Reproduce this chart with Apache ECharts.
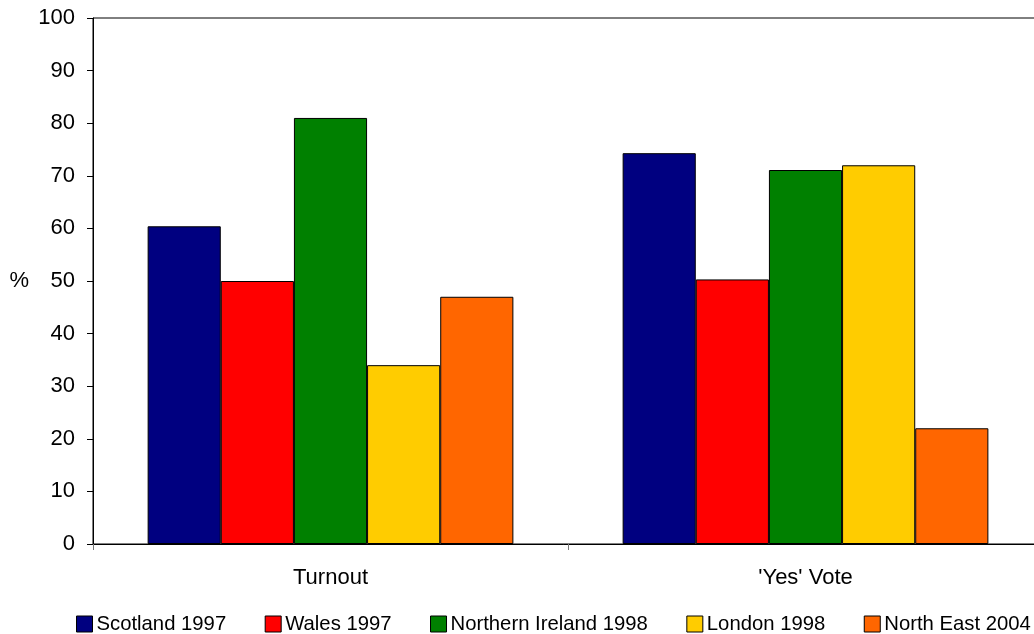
<!DOCTYPE html>
<html>
<head>
<meta charset="utf-8">
<style>
  html, body { margin: 0; padding: 0; background: #fff; }
  #chart { width: 1034px; height: 634px; }
</style>
<script src="https://cdn.jsdelivr.net/npm/echarts@6/dist/echarts.min.js"></script>
</head>
<body>
<div id="chart"></div>
<script>
// Referendum results: turnout and 'Yes' vote share (%)
const categories = ['Turnout', "'Yes' Vote"];
const seriesNames = ['Scotland 1997', 'Wales 1997', 'Northern Ireland 1998', 'London 1998', 'North East 2004'];
const scotland1997 = [60.4, 74.3];
const wales1997 = [50.0, 50.3];
const northernIreland1998 = [81.0, 71.1];
const london1998 = [34.0, 72.0];
const northEast2004 = [47.0, 22.0];
const seriesColors = ['#000080', '#FF0000', '#008000', '#FFCC00', '#FF6600'];

const seriesValues = [scotland1997, wales1997, northernIreland1998, london1998, northEast2004];

const font = 'Liberation Sans, Arial, sans-serif';
const chart = echarts.init(document.getElementById('chart'), null, { renderer: 'canvas' });

chart.setOption({
  animation: false,
  backgroundColor: '#ffffff',
  textStyle: { fontFamily: font, color: '#000' },
  grid: {
    left: 93, top: 18, width: 950, height: 526,
    outerBoundsMode: 'none',
    containLabel: false,
    show: true, borderColor: '#000', borderWidth: 1, backgroundColor: 'transparent'
  },
  legend: {
    left: 76, top: 614, width: 1000,
    padding: 0,
    itemWidth: 16, itemHeight: 16, itemGap: 38.5,
    icon: 'rect',
    textStyle: { fontFamily: font, fontSize: 20.3, color: '#000', padding: [0, 0, 0, -1] },
    itemStyle: { borderColor: '#000', borderWidth: 1 },
    data: seriesNames
  },
  xAxis: {
    type: 'category',
    data: categories,
    axisLine: { lineStyle: { color: '#000', width: 1 } },
    axisTick: { show: true, length: 6, lineStyle: { color: '#777' } },
    axisLabel: { fontFamily: font, fontSize: 22, color: '#000', margin: 23 },
    splitLine: { show: false }
  },
  yAxis: {
    type: 'value',
    min: 0, max: 100, interval: 10,
    name: '%',
    nameLocation: 'middle',
    nameRotate: 0,
    nameGap: 64,
    nameTextStyle: { fontFamily: font, fontSize: 22, color: '#000' },
    axisLine: { show: true, lineStyle: { color: '#000', width: 1 } },
    axisTick: { show: true, length: 6, lineStyle: { color: '#000' } },
    axisLabel: { fontFamily: font, fontSize: 22, color: '#000', margin: 18 },
    splitLine: { show: false }
  },
  series: seriesNames.map((name, i) => ({
    name: name,
    type: 'bar',
    data: seriesValues[i],
    barGap: '0%',
    barCategoryGap: '23%',
    itemStyle: { color: seriesColors[i], borderColor: '#000', borderWidth: 1 }
  }))
});
</script>
</body>
</html>
